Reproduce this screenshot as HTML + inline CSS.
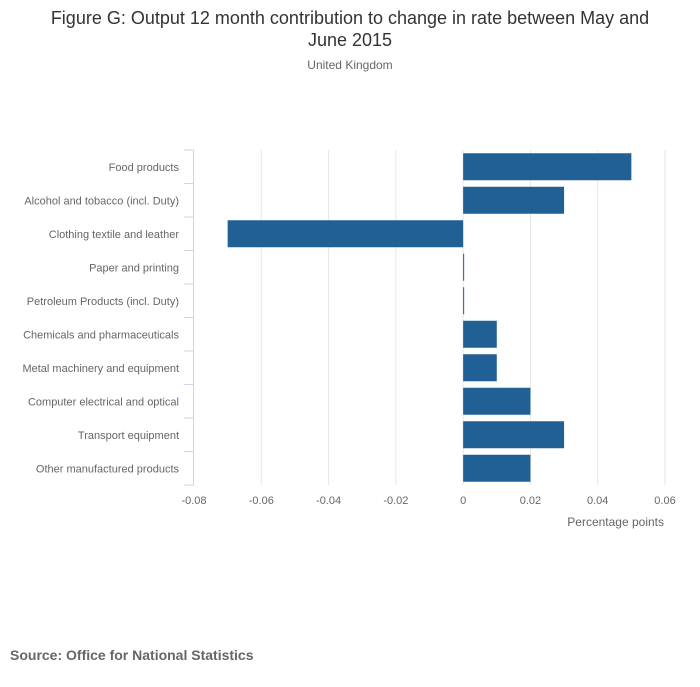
<!DOCTYPE html>
<html><head><meta charset="utf-8"><style>
body{margin:0;background:#fff;font-family:"Liberation Sans",sans-serif;}
#wrap{position:relative;width:700px;height:682px;}
</style></head><body><div id="wrap">
<svg id="svg" width="700" height="682" xmlns="http://www.w3.org/2000/svg">
<text x="350" y="24" text-anchor="middle" font-size="18" fill="#333">Figure G: Output 12 month contribution to change in rate between May and</text>
<text x="350" y="46" text-anchor="middle" font-size="18" fill="#333">June 2015</text>
<text x="350" y="69" text-anchor="middle" font-size="12" fill="#666">United Kingdom</text>
<text x="664" y="526" text-anchor="end" font-size="12" fill="#666">Percentage points</text>
<text x="10" y="660" font-size="14" font-weight="bold" fill="#666">Source: Office for National Statistics</text>
<g id="plot"></g>
</svg></div>
<script>
const categories=["Food products","Alcohol and tobacco (incl. Duty)","Clothing textile and leather","Paper and printing","Petroleum Products (incl. Duty)","Chemicals and pharmaceuticals","Metal machinery and equipment","Computer electrical and optical","Transport equipment","Other manufactured products"];
const values=[0.05,0.03,-0.07,0,0,0.01,0.01,0.02,0.03,0.02];
const ticks=[-0.08,-0.06,-0.04,-0.02,0,0.02,0.04,0.06];
const tickLabels=["-0.08","-0.06","-0.04","-0.02","0","0.02","0.04","0.06"];
const NS="http://www.w3.org/2000/svg";
const g=document.getElementById('plot');
const x0=194,x1=665,plotTop=150,plotBottom=485;
const xs=v=>x0+(v-ticks[0])/(ticks[ticks.length-1]-ticks[0])*(x1-x0);
const band=(plotBottom-plotTop)/categories.length;
function mk(t,a){const e=document.createElementNS(NS,t);for(const k in a)e.setAttribute(k,a[k]);g.appendChild(e);return e;}
ticks.forEach((t,i)=>{
 if(i>0){const l=mk('line',{x1:xs(t),x2:xs(t),y1:plotTop,y2:plotBottom,stroke:'#e6e6e6'});
 
 }
 const tx=mk('text',{x:xs(t),y:plotBottom+19,'text-anchor':'middle','font-size':11,fill:'#666'});
 tx.textContent=tickLabels[i];
 
 
});
const ax=mk('line',{x1:x0-0.5,x2:x0-0.5,y1:plotTop,y2:plotBottom,stroke:'#ccd6eb'});


for(let i=0;i<=categories.length;i++){
 const y=plotTop+i*band;
 const tk=mk('line',{x1:x0-10,x2:x0,y1:y,y2:y,stroke:'#ccd6eb'});
 
 
}
categories.forEach((c,i)=>{
 const cy=plotTop+(i+0.5)*band;
 const t=mk('text',{x:179,y:cy+4,'text-anchor':'end','font-size':11,fill:'#666'});
 t.textContent=c;
 
 
 const v=values[i];
 let a=xs(Math.min(0,v)),b=xs(Math.max(0,v));
 if(b-a<1)b=a+1;
 const r=mk('rect',{x:a,y:cy-13.5,width:b-a,height:27,fill:'#206095'});
 
 
});
</script></body></html>
